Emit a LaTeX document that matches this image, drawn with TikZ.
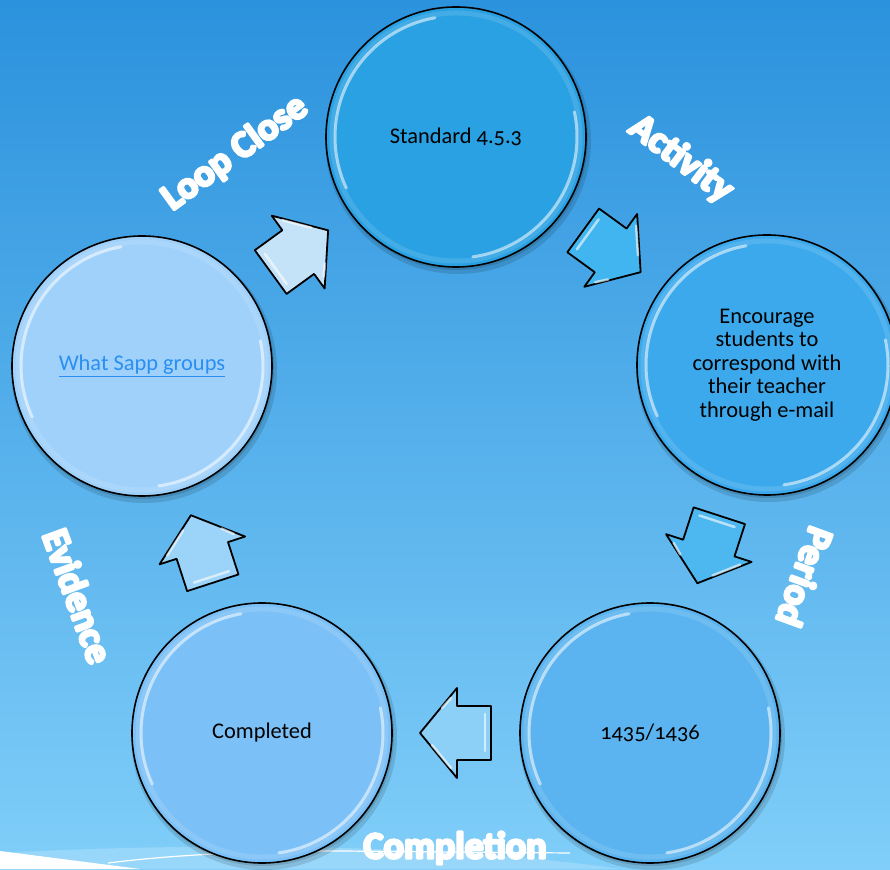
\documentclass[tikz,border=0pt]{standalone}
\usepackage{fontspec}
\setmainfont{Carlito}[Numbers=OldStyle]
\usetikzlibrary{calc}
\definecolor{bgtop}{HTML}{2B92DD}
\definecolor{bgbot}{HTML}{80CEF9}
\definecolor{ctop}{HTML}{29A1E3}
\definecolor{cright}{HTML}{3BA9EC}
\definecolor{cbr}{HTML}{5BB4F0}
\definecolor{cbl}{HTML}{7BC0F7}
\definecolor{cleft}{HTML}{A0D1FB}
\definecolor{aone}{HTML}{C4E3F9}
\definecolor{atwo}{HTML}{41B5EF}
\definecolor{athree}{HTML}{4DB7F0}
\definecolor{afour}{HTML}{8CD0F7}
\definecolor{afive}{HTML}{9CD3F8}
\definecolor{linkblue}{HTML}{2A8FF0}
\tikzset{
  bubble/.style={circle, minimum size=260pt, inner sep=0pt, draw=black, line width=1.6pt,
    align=center, font=\fontsize{22.4}{23.4}\selectfont, text=black},
  blockarrow/.style={draw=black, line width=1.8pt, line join=round},
  glint/.style={white, line width=2.5pt, opacity=0.6, line cap=round},
  ringhl/.style={white, line width=3pt, opacity=0.55, line cap=round},
  labtext/.style={font=\bfseries\fontsize{38}{42}\selectfont, text=white, inner sep=0pt},
  bshadow/.style={black, opacity=0.12},
}
\newcommand\strk[1]{\special{pdf:literal direct 2 Tr 2.6 w 1 1 1 RG 1 j}#1\special{pdf:literal direct 0 Tr}}
\newcommand\glossring[1]{%
  \draw[white, opacity=0.12, line width=5pt] (#1) circle (124);
  \draw[ringhl] ($(#1)+(100:121)$) arc[start angle=100, end angle=205, radius=121];
  \draw[ringhl] ($(#1)+(-82:121)$) arc[start angle=-82, end angle=12, radius=121];
}
\newcommand\blockarr[5]{% name, between A, and B, angle, colour
  \begin{scope}[shift={($(#2)!0.5!(#3)$)}, rotate=#4]
    \coordinate (#1) at (0,0);
    \filldraw[blockarrow, fill=#5] (-35,27) -- (-1,27) -- (-1,45) -- (36,0) -- (-1,-45) -- (-1,-27) -- (-35,-27) -- cycle;
    \draw[glint] (-29,-19) -- (-29,18);
    \draw[glint] (5,35) -- (24,12);
    \draw[glint] (5,-35) -- (14,-25);
  \end{scope}}
\newcommand\wlab[4]{% name, position, angle, text
  \node[labtext, rotate=#3] (#1) at #2 {\strk{#4}};}
\begin{document}
\begin{tikzpicture}[x=1pt,y=1pt]
\useasboundingbox (0,0) rectangle (890,869);
\shade[top color=bgtop, bottom color=bgbot] (0,0) rectangle (890,869);
% bottom swoosh
\fill[white, opacity=0.2] (0,16) .. controls (200,27) and (450,25) .. (620,0) -- (0,0) -- cycle;
\draw[white, line width=1.2pt] (108,6) .. controls (180,15) and (260,18) .. (341,18) -- (570,16);
\fill[white] (0,18) -- (140,0) -- (0,0) -- cycle;
% centres
\coordinate (ptop) at (456,732);
\coordinate (pright) at (767,504);
\coordinate (pbr) at (650,136);
\coordinate (pbl) at (262,136);
\coordinate (pleft) at (142,503);
% shadows
\foreach \p in {ptop,pright,pbr,pbl,pleft}{
  \fill[bshadow] ($(\p)+(2,-4)$) circle (133);
  \fill[bshadow] ($(\p)+(1,-2)$) circle (131);
}
% bubbles
\node[bubble, fill=ctop] (top) at (ptop) {Standard 4.5.3};
\node[bubble, fill=cright] (right) at (pright) {Encourage\\students to\\correspond with\\their teacher\\through e-mail};
\node[bubble, fill=cbr] (br) at (pbr) {1435/1436};
\node[bubble, fill=cbl] (bl) at (pbl) {Completed};
\node[bubble, fill=cleft, text=linkblue] (left) at (pleft) {\underline{What Sapp groups}};
\glossring{top}
\glossring{right}
\glossring{br}
\glossring{bl}
\glossring{left}
% block arrows
\blockarr{a1}{left}{top}{36}{aone}
\blockarr{a2}{top}{right}{-36}{atwo}
\blockarr{a3}{right}{br}{-108}{athree}
\blockarr{a4}{br}{bl}{180}{afour}
\blockarr{a5}{bl}{left}{108}{afive}
% labels
\wlab{lloop}{(235,716)}{36}{Loop Close}
\wlab{lact}{(681,710)}{-37}{Activity}
\wlab{lper}{(805,292)}{-110}{Period}
\wlab{lcomp}{(455,21)}{0}{Completion}
\wlab{levi}{(78,273)}{-70}{Evidence}
\end{tikzpicture}
\end{document}
